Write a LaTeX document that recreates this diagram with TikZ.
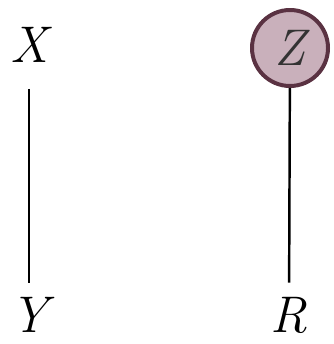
\documentclass[tikz,border=0pt]{standalone}
\usepackage{tikz}
\usetikzlibrary{positioning}
\definecolor{zfill}{RGB}{201,176,187}
\definecolor{zdraw}{RGB}{90,50,66}
\begin{document}
\begin{tikzpicture}[x=0.03cm, y=-0.03cm,
        var/.style={inner sep=0pt, font=\fontsize{44}{48}\selectfont\itshape},
        latent/.style={var, circle, draw=zdraw, line width=3.4pt, fill=zfill, minimum size=2.28cm, text=black!80},
        edge/.style={line width=2.1pt}
    ]
        \useasboundingbox (0,0) rectangle (333,344);

        % left pair
        \node[var] (x) at (29,45) {X};
        \node[var] (y) at (29,315) {Y};

        % right pair
        \node[latent] (z) at (290,48) {Z};
        \node[var] (r) at (289,315) {R};

        \draw[edge, shorten <=0.78cm, shorten >=0.42cm] (x) -- (y);
        \draw[edge, shorten >=0.42cm] (z) -- (r);
    \end{tikzpicture}
\end{document}
